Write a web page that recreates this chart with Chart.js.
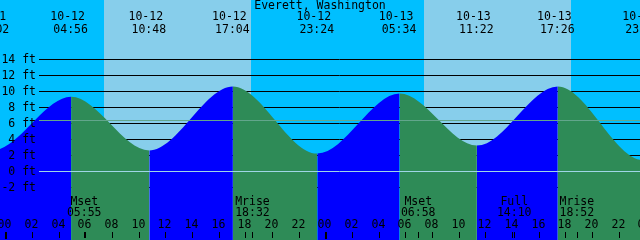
<!DOCTYPE html>
<html>
<head>
<meta charset="utf-8">
<title>Everett, Washington</title>
<script src="https://cdn.jsdelivr.net/npm/chart.js"></script>
<style>
  html, body { margin: 0; padding: 0; background: #00bfff; }
  #tideChart { display: block; }
</style>
</head>
<body>
<canvas id="tideChart" width="640" height="240"></canvas>
<script>
const stationName = "Everett, Washington";

// high / low tides (date, clock time, height in ft)
const tideDates = ["10-11", "10-11", "10-12", "10-12", "10-12", "10-12", "10-13", "10-13", "10-13", "10-13", "10-14"];
const tideClock = ["16:40", "23:02", "04:56", "10:48", "17:04", "23:24", "05:34", "11:22", "17:26", "23:50", "06:10"];
const tideFeet = [10.2, 2.6, 9.3, 2.6, 10.6, 2.2, 9.7, 3.2, 10.6, 1.4, 9.9];

// daylight
const sunriseDates = ["10-12", "10-13"];
const sunriseClock = ["07:24", "07:24"];
const sunsetDates = ["10-12", "10-13"];
const sunsetClock = ["18:26", "18:26"];

// moon events along the bottom
const moonDates = ["10-12", "10-12", "10-13", "10-13", "10-13"];
const moonClock = ["05:55", "18:32", "06:58", "14:10", "18:52"];
const moonNames = ["Mset", "Mrise", "Mset", "Full", "Mrise"];

// axes
const hourTicks = [0, 2, 4, 6, 8, 10, 12, 14, 16, 18, 20, 22, 24, 26, 28, 30, 32, 34, 36, 38, 40, 42, 44, 46, 48];
const feetTicks = [-2, 0, 2, 4, 6, 8, 10, 12, 14];
const meanLevel = 6.4;

const NIGHT = "#00bfff";
const DAY = "#87ceeb";
const RISE = "#0000ff";
const FALL = "#2e8b57";
const FONT = "11.5px 'DejaVu Sans Mono', monospace";

// hours counted from 10-12 00:00
function toHours(date, clock) {
  const day = parseInt(date.slice(3), 10) - 12;
  const [h, m] = clock.split(":").map(Number);
  return day * 24 + h + m / 60;
}

const tidePoints = tideDates.map((d, i) => ({ x: toHours(d, tideClock[i]), y: tideFeet[i] }));

const tidePlot = {
  id: "tidePlot",
  beforeDatasetsDraw(chart) {
    const { ctx, chartArea: a, scales: { x, y } } = chart;
    ctx.save();
    ctx.fillStyle = NIGHT;
    ctx.fillRect(a.left, a.top, a.width, a.height);
    ctx.fillStyle = DAY;
    for (let i = 0; i < sunriseDates.length; i++) {
      const x0 = Math.round(x.getPixelForValue(toHours(sunriseDates[i], sunriseClock[i])));
      const x1 = Math.round(x.getPixelForValue(toHours(sunsetDates[i], sunsetClock[i])));
      ctx.fillRect(x0, a.top, x1 - x0, a.height);
    }
    // black level lines, hidden under the water
    ctx.strokeStyle = "#000";
    ctx.lineWidth = 1;
    feetTicks.forEach(v => {
      if (v === 0) return;
      const py = Math.floor(y.getPixelForValue(v)) + 0.5;
      ctx.beginPath();
      ctx.moveTo(39, py);
      ctx.lineTo(a.right, py);
      ctx.stroke();
    });
    ctx.restore();
  },
  afterDatasetsDraw(chart) {
    const { ctx, chartArea: a, scales: { x, y } } = chart;
    ctx.save();
    // datum and mean level
    const drawLevel = (v, color) => {
      const py = Math.floor(y.getPixelForValue(v)) + 0.5;
      ctx.strokeStyle = color;
      ctx.beginPath();
      ctx.moveTo(39, py);
      ctx.lineTo(a.right, py);
      ctx.stroke();
    };
    drawLevel(0, "#9fd6e6");
    drawLevel(meanLevel, "#62a68c");

    ctx.fillStyle = "#000";
    ctx.font = FONT;
    ctx.textBaseline = "middle";

    // feet labels
    ctx.textAlign = "right";
    feetTicks.forEach(v => {
      ctx.fillText(v + " ft", 36, y.getPixelForValue(v) + 0.5);
    });

    ctx.textAlign = "center";
    ctx.fillText(stationName, 320, 6);

    // tide times on top
    tidePoints.forEach((p, i) => {
      const px = x.getPixelForValue(p.x);
      ctx.fillText(tideDates[i], px - 3.5, 17);
      ctx.fillText(tideClock[i], px - 0.5, 30);
    });

    // moon events
    moonDates.forEach((d, i) => {
      const px = x.getPixelForValue(toHours(d, moonClock[i]));
      ctx.fillText(moonNames[i], px, 202);
      ctx.fillText(moonClock[i], px, 213);
      ctx.fillRect(Math.round(px), 232, 1, 6);
    });

    // hour ticks
    hourTicks.forEach(h => {
      const px = Math.round(x.getPixelForValue(h));
      ctx.fillText(String(h % 24).padStart(2, "0"), px - 0.5, 225);
      if (h % 24 === 0) ctx.fillRect(px, 232, 2, 7);
      else ctx.fillRect(px, 232, 1, 6);
    });
    ctx.restore();
  }
};

new Chart(document.getElementById("tideChart"), {
  type: "line",
  data: {
    datasets: [{
      data: tidePoints,
      borderWidth: 0,
      borderColor: "rgba(0,0,0,0)",
      pointRadius: 0,
      cubicInterpolationMode: "monotone",
      fill: "start",
      backgroundColor: FALL,
      segment: {
        backgroundColor: c => (c.p1.parsed.y > c.p0.parsed.y ? RISE : FALL)
      }
    }]
  },
  options: {
    responsive: false,
    animation: false,
    devicePixelRatio: 1,
    layout: { padding: 0 },
    scales: {
      x: { type: "linear", min: -0.4, max: 47.6, display: false },
      y: { min: -8.6, max: 21.4, display: false }
    },
    plugins: {
      legend: { display: false },
      tooltip: { enabled: false }
    }
  },
  plugins: [tidePlot]
});
</script>
</body>
</html>
